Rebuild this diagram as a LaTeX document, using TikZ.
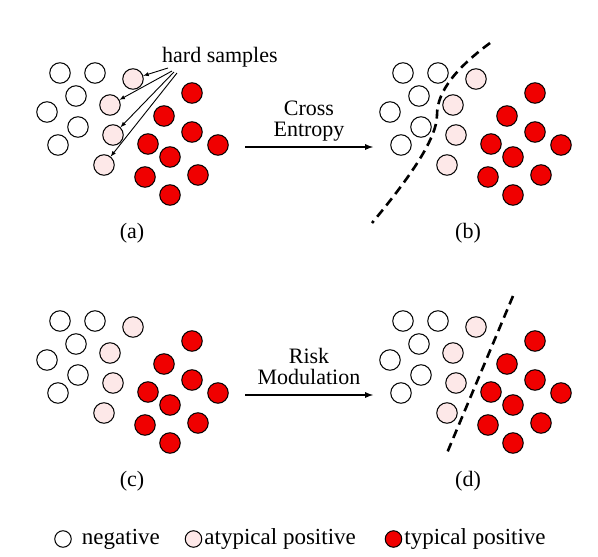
\documentclass[tikz,border=0pt]{standalone}
\usepackage{fontspec}
\setmainfont{Liberation Serif}
\usetikzlibrary{arrows}
\usetikzlibrary{positioning}

\definecolor{atypfill}{RGB}{253,232,232}
\definecolor{typfill}{RGB}{240,0,0}

\tikzset{
  dot/.style={circle,draw=black,line width=1pt,minimum size=20.5pt,inner sep=0pt},
  neg/.style={dot,fill=white},
  atyp/.style={dot,fill=atypfill},
  typ/.style={dot,fill=typfill},
  legdot/.style={minimum size=16.5pt},
  boundary/.style={line width=2.6pt,dash pattern=on 9pt off 5.5pt},
  lbl/.style={font=\fontsize{22}{21}\selectfont,align=center,inner sep=0pt},
  legtxt/.style={font=\fontsize{23}{23}\selectfont,inner sep=0pt},
}

% one cloud of samples: #1 name prefix, #2/#3 shift
\newcommand{\samplecloud}[3]{%
  \begin{scope}[shift={(#2,#3)}]
    \foreach \x/\y [count=\i] in {60/73,95/73,76/96,47/112,78/127,58/145}
      \node[neg] (#1n\i) at (\x,\y) {};
    \foreach \x/\y [count=\i] in {133/79,110/105,113/135,104/165}
      \node[atyp] (#1p\i) at (\x,\y) {};
    \foreach \x/\y [count=\i] in {192/93,164/116,192/132,148/144,218/145,170/157,145/177,198/175,170/195}
      \node[typ] (#1r\i) at (\x,\y) {};
  \end{scope}}

\begin{document}
\begin{tikzpicture}[x=1pt,y=-1pt,>=latex]
 \useasboundingbox (0,0) rectangle (598,557);
 \samplecloud{a}{0}{0}
 \samplecloud{b}{343}{0}
 \samplecloud{c}{0}{248}
 \samplecloud{d}{343}{248}

 % hard samples
 \node[lbl,anchor=base west] (hard) at (162,62) {hard samples};
 \coordinate (h1) at (168,68);
 \coordinate (h2) at (172,71);
 \coordinate (h3) at (174,72);
 \coordinate (h4) at (177,73);
 \foreach \i in {1,...,4}
   \draw[->,line width=0.9pt] (h\i) -- (ap\i);

 % decision boundaries
 \draw[boundary] (490,43) .. controls (459,66) and (437,90) .. (437,115)
   .. controls (437,140) and (406,182) .. (372,223);
 \draw[boundary] (513,296) -- (447,453);

 % training steps
 \coordinate (ab1) at (245,147);
 \coordinate (ab2) at (373,147);
 \coordinate (cd1) at (245,395);
 \coordinate (cd2) at (373,395);
 \draw[->,line width=1.7pt] (ab1) -- node[lbl,above=10pt,text depth=0pt] (ce) {Cross\\Entropy} (ab2);
 \draw[->,line width=1.7pt] (cd1) -- node[lbl,above=10pt,text depth=0pt] (rm) {Risk\\Modulation} (cd2);

 % captions
 \node[lbl] (capa) at (132,233) {(a)};
 \node[lbl] (capb) at (468,233) {(b)};
 \node[lbl] (capc) at (132,481) {(c)};
 \node[lbl] (capd) at (468,481) {(d)};

 % legend
 \node[neg,legdot] (lneg) at (63,539) {};
 \node[legtxt,right=10pt of lneg] (tneg) {negative};
 \node[atyp,legdot] (latyp) at (193.5,539) {};
 \node[legtxt,right=2pt of latyp] (tatyp) {atypical positive};
 \node[typ,legdot] (ltyp) at (393.5,539) {};
 \node[legtxt,right=2pt of ltyp] (ttyp) {typical positive};
\end{tikzpicture}
\end{document}
